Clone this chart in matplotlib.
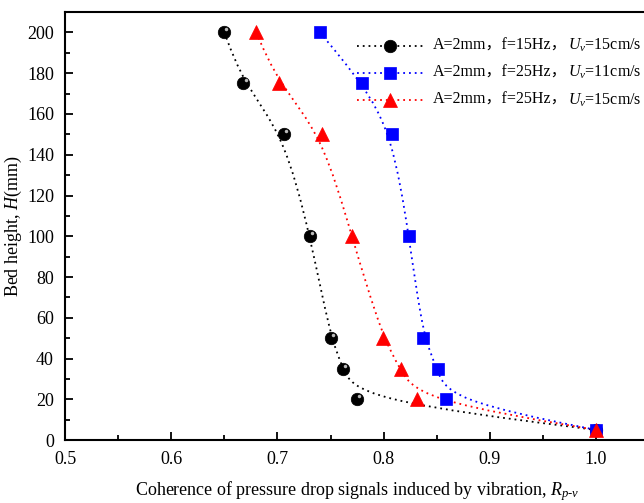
import numpy as np
import matplotlib
matplotlib.use('Agg')
import matplotlib.pyplot as plt
from matplotlib.path import Path
from matplotlib.patches import PathPatch
from matplotlib.lines import Line2D
from matplotlib.ticker import MultipleLocator
from matplotlib.offsetbox import (AnchoredOffsetbox, DrawingArea, HPacker,
                                  TextArea, VPacker)

plt.rcParams['font.family'] = ['Liberation Serif', 'Noto Sans CJK SC']
plt.rcParams['mathtext.fontset'] = 'custom'
plt.rcParams['mathtext.rm'] = 'Liberation Serif'
plt.rcParams['mathtext.it'] = 'Liberation Serif:italic'

# data
height = [200, 175, 150, 100, 50, 35, 20, 5]
r_15hz_15 = [0.650, 0.668, 0.706, 0.731, 0.750, 0.762, 0.775, 1.0]
r_25hz_11 = [0.740, 0.780, 0.808, 0.824, 0.837, 0.851, 0.859, 1.0]
r_25hz_15 = [0.680, 0.701, 0.742, 0.770, 0.799, 0.816, 0.831, 1.0]
label_head = ['A=2mm，f=15Hz，', 'A=2mm，f=25Hz，', 'A=2mm，f=25Hz，']
label_tail = ['$U_v$=15cm/s', '$U_v$=11cm/s', '$U_v$=15cm/s']


def bspline_path(xs, ys):
    # cubic b-spline (ends clamped) drawn as bezier segments, like Origin's B-spline line
    p = np.column_stack([xs, ys]).astype(float)
    p = np.vstack([p[0], p[0], p, p[-1], p[-1]])
    verts, codes = [], []
    for i in range(len(p) - 3):
        a, b, c, d = p[i:i + 4]
        seg = [(a + 4 * b + c) / 6, (2 * b + c) / 3, (b + 2 * c) / 3, (b + 4 * c + d) / 6]
        if i == 0:
            verts.append(seg[0])
            codes.append(Path.MOVETO)
        verts += seg[1:]
        codes += [Path.CURVE4] * 3
    return Path(verts, codes)


fig = plt.figure(figsize=(6.44, 5.03), dpi=100)
ax = fig.add_axes([0.101, 0.125, 0.907, 0.851])

dots = (0, (1, 2.2))
series = [(r_15hz_15, 'black', 'o', 9), (r_25hz_11, 'blue', 's', 8), (r_25hz_15, 'red', '^', 10)]
for xs, col, mk, ms in series:
    ax.add_patch(PathPatch(bspline_path(xs, height), facecolor='none', edgecolor=col,
                           linestyle=dots, linewidth=1.3))
    ax.plot(xs, height, linestyle='none', marker=mk, color=col, markersize=ms,
            markeredgewidth=0.5)
    if mk == 'o':
        # small highlight to mimic the shaded spheres
        ax.plot(np.array(xs) + 0.002, np.array(height) + 1.6, linestyle='none', marker='o',
                color='#bbbbbb', markersize=2.5, markeredgewidth=0)

ax.set_xlim(0.5, 1.05)
ax.set_ylim(0, 210)
ax.xaxis.set_major_locator(MultipleLocator(0.1))
ax.xaxis.set_minor_locator(MultipleLocator(0.05))
ax.yaxis.set_major_locator(MultipleLocator(20))
ax.yaxis.set_minor_locator(MultipleLocator(10))
ax.xaxis.set_major_formatter(plt.FuncFormatter(lambda v, p: f'{v:.1f}'))
ax.tick_params(which='both', direction='in', width=1.3, labelsize=13, pad=8)
ax.tick_params(which='major', length=6)
ax.tick_params(which='minor', length=3.5)
for s in ax.spines.values():
    s.set_linewidth(1.5)

ax.set_xlabel('Coherence of pressure drop signals induced by vibration, $R_{p\\text{-}v}$',
              fontsize=13, labelpad=8)
ax.set_ylabel('Bed height, $H$(mm)', fontsize=13, labelpad=2)

# legend built by hand so the full-width comma can fall back to a CJK font
rows = []
for (xs, col, mk, ms), head, tail in zip(series, label_head, label_tail):
    da = DrawingArea(48, 12, 0, 0)
    da.add_artist(Line2D([0, 48], [6, 6], color=col, linestyle=dots, linewidth=1.3))
    da.add_artist(Line2D([24], [6], color=col, marker=mk, markersize=ms, markeredgewidth=0.5))
    t1 = TextArea(head, textprops=dict(fontsize=11.5,
                                       family=['Liberation Serif', 'Noto Sans CJK SC']))
    t2 = TextArea(tail, textprops=dict(fontsize=11.5))
    txt = HPacker(children=[t1, t2], align='baseline', pad=0, sep=0)
    rows.append(HPacker(children=[da, txt], align='center', pad=0, sep=7))
box = VPacker(children=rows, align='left', pad=0, sep=7)
anchored = AnchoredOffsetbox(loc='upper right', child=box, frameon=False,
                             bbox_to_anchor=(0.996, 0.955), bbox_transform=ax.transAxes,
                             borderpad=0)
ax.add_artist(anchored)

fig.savefig('out.png', dpi=100)
